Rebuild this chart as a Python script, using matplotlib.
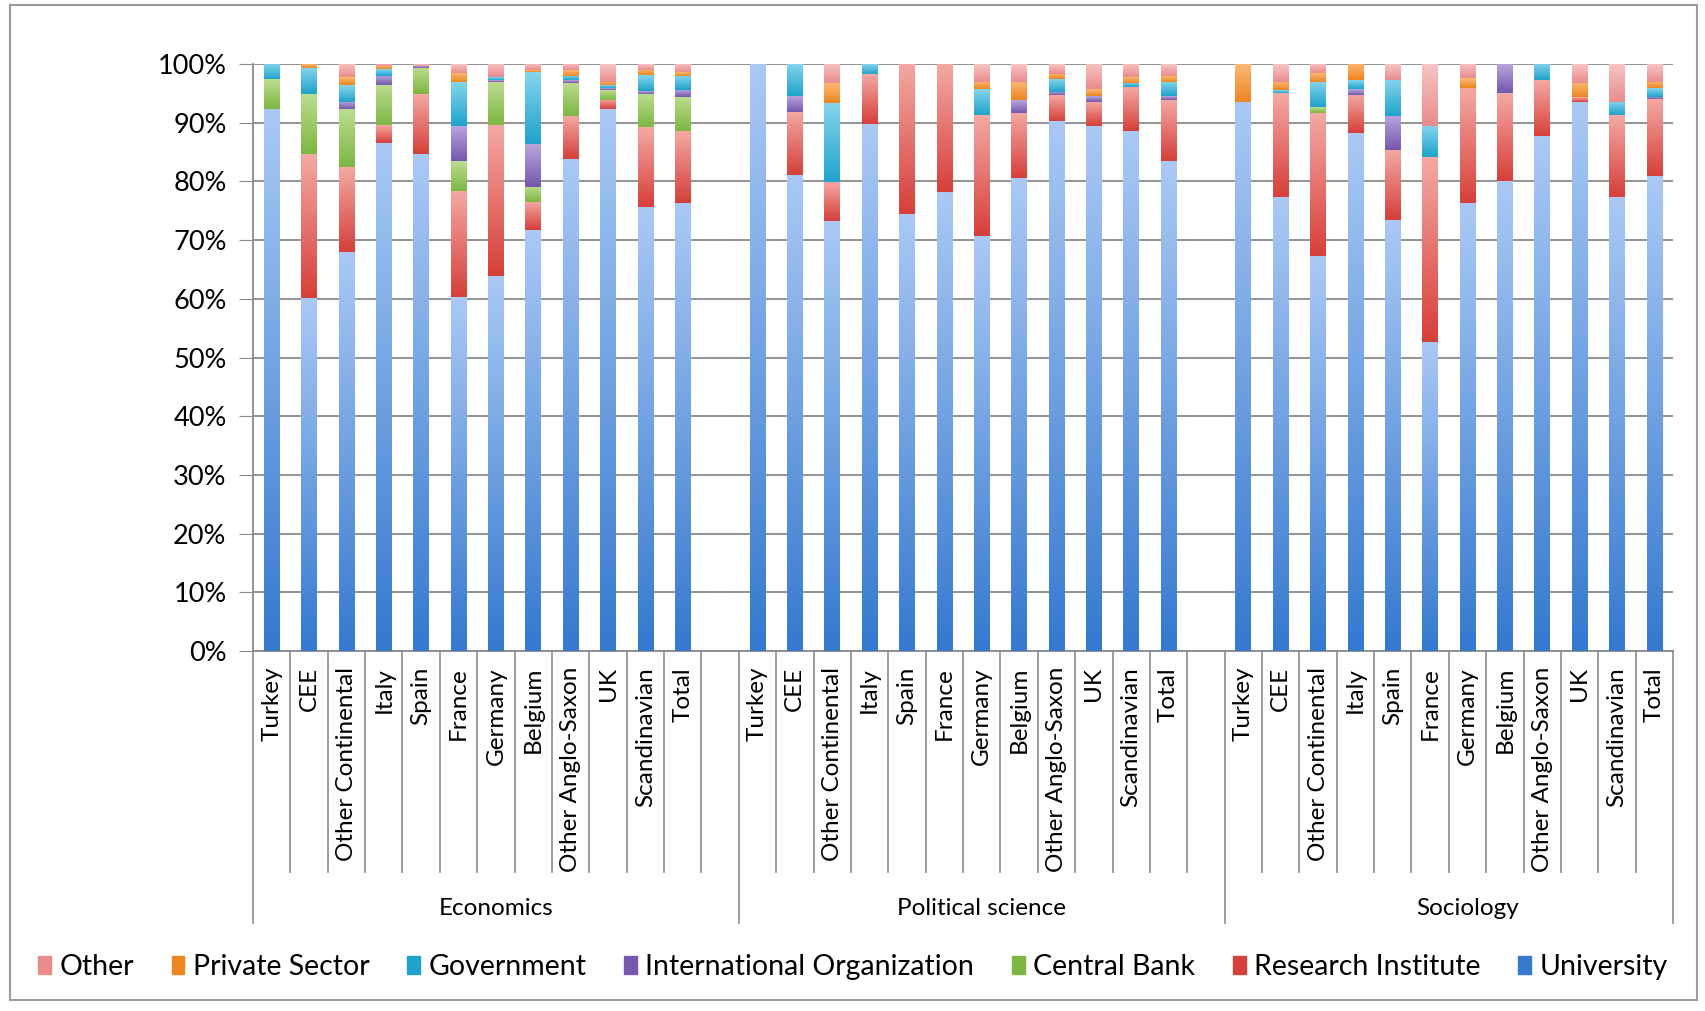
import numpy as np
import matplotlib.pyplot as plt
from matplotlib.colors import LinearSegmentedColormap
from matplotlib.patches import Rectangle

plt.rcParams['font.family'] = ['Lato', 'DejaVu Sans']

countries = ["Turkey", "CEE", "Other Continental", "Italy", "Spain", "France",
             "Germany", "Belgium", "Other Anglo-Saxon", "UK", "Scandinavian", "Total"]
fields = ["Economics", "Political science", "Sociology"]

# shares in %, 12 countries per field: Economics | Political science | Sociology
university = [92.3, 60.1, 67.9, 86.6, 84.7, 60.3, 63.9, 71.7, 83.9, 92.3, 75.7, 76.4,
              100.0, 81.1, 73.3, 89.8, 74.4, 78.2, 70.7, 80.5, 90.3, 89.4, 88.6, 83.4,
              93.6, 77.4, 67.3, 88.2, 73.5, 52.7, 76.4, 80.1, 87.7, 93.6, 77.4, 80.9]
research_institute = [0.0, 24.6, 14.6, 3.0, 10.2, 18.1, 25.7, 4.8, 7.2, 1.6, 13.5, 12.2,
                      0.0, 10.8, 6.6, 8.5, 25.6, 21.8, 20.6, 11.2, 4.4, 4.2, 7.4, 10.5,
                      0.0, 17.6, 24.4, 6.5, 11.8, 31.4, 19.5, 14.9, 9.5, 0.8, 13.9, 13.1]
central_bank = [5.1, 10.2, 9.8, 6.8, 4.5, 5.0, 7.4, 2.6, 5.7, 1.7, 5.7, 5.8,
                0, 0, 0, 0, 0, 0, 0, 0, 0, 0, 0, 0,
                0, 0, 1.0, 0, 0, 0, 0, 0, 0, 0, 0, 0]
intl_org = [0.0, 0.0, 1.3, 1.6, 0.3, 6.0, 0.3, 7.2, 0.4, 0.3, 0.5, 1.2,
            0.0, 2.6, 0.0, 0.0, 0, 0, 0.0, 2.2, 0.6, 1.0, 0.0, 0.6,
            0.0, 0.0, 0.0, 1.0, 5.8, 0.0, 0, 5.0, 0, 0, 0, 0.4]
government = [2.6, 4.5, 2.8, 1.1, 0.0, 7.6, 0.4, 12.4, 0.8, 0.5, 2.7, 2.4,
              0.0, 5.5, 13.5, 1.7, 0, 0, 4.4, 0.0, 2.1, 0.0, 0.7, 2.5,
              0.0, 0.5, 4.3, 1.5, 6.2, 5.3, 0.0, 0.0, 2.8, 0.0, 2.3, 1.5]
private_sector = [0.0, 0.6, 1.3, 0.5, 0.0, 1.5, 0.0, 0.2, 0.9, 0.6, 0.9, 0.6,
                  0.0, 0.0, 3.3, 0.0, 0, 0, 1.3, 3.1, 0.9, 1.1, 1.0, 1.0,
                  6.4, 1.5, 1.4, 2.8, 0.0, 0.0, 1.7, 0.0, 0.0, 2.4, 0.0, 1.1]
other = [0.0, 0.0, 2.3, 0.4, 0.3, 1.5, 2.3, 1.1, 1.1, 3.0, 1.0, 1.4,
         0.0, 0.0, 3.3, 0.0, 0, 0, 3.0, 3.0, 1.7, 4.3, 2.3, 2.0,
         0.0, 3.0, 1.6, 0.0, 2.7, 10.6, 2.4, 0.0, 0.0, 3.2, 6.4, 3.0]

series = [("University", university, "#3679cf", "#a9c9f4"),
          ("Research Institute", research_institute, "#d6403a", "#f4a8a3"),
          ("Central Bank", central_bank, "#7db642", "#bcdd8f"),
          ("International Organization", intl_org, "#7658ad", "#b9a6dd"),
          ("Government", government, "#1fa3cc", "#86d5ec"),
          ("Private Sector", private_sector, "#ee8622", "#fbb874"),
          ("Other", other, "#ea8c8c", "#f7c4c4")]

# slot positions: 12 bars per field, one empty slot between fields
slots = []
for g in range(3):
    slots += [g * 13 + i + 0.5 for i in range(12)]
slots = np.array(slots)
n_slots = 38

fig = plt.figure(figsize=(17.06, 10.11), dpi=100)
ax = fig.add_axes([0.1483, 0.356, 0.8324, 0.5807])

grad = np.linspace(0, 1, 64).reshape(-1, 1)
bottom = np.zeros(len(slots))
for name, vals, dark, light in series:
    vals = np.array(vals, dtype=float)
    bars = ax.bar(slots, vals, 0.42, bottom=bottom, color='none', linewidth=0)
    cmap = LinearSegmentedColormap.from_list(name, [dark, light])
    for b in bars:
        if b.get_height() <= 0:
            continue
        x0, y0 = b.get_x(), b.get_y()
        ax.imshow(grad, cmap=cmap, origin='lower', aspect='auto',
                  extent=[x0, x0 + b.get_width(), y0, y0 + b.get_height()],
                  zorder=3, interpolation='bilinear')
    bottom += vals

ax.set_xlim(0, n_slots)
ax.set_ylim(0, 100)
ax.set_yticks(range(0, 101, 10))
ax.set_yticklabels([f"{v}%" for v in range(0, 101, 10)], fontsize=19.5)
ax.tick_params(axis='y', length=10, color='#8a8a8a', pad=9)
ax.set_xticks([])
ax.grid(axis='y', color='#8a8a8a', linewidth=1.3, zorder=0)
ax.set_axisbelow(True)
for s in ['top', 'right']:
    ax.spines[s].set_visible(False)
for s in ['left', 'bottom']:
    ax.spines[s].set_color('#8a8a8a')
    ax.spines[s].set_linewidth(1.3)

# category separators and labels
tr = ax.get_xaxis_transform()
for i in range(n_slots + 1):
    long = i in (0, 13, 26, 38)
    ax.plot([i, i], [0, -0.463 if long else -0.376], transform=tr, color='#8a8a8a',
            linewidth=1.2, clip_on=False)
for x, c in zip(slots, countries * 3):
    ax.text(x, -0.027, c, transform=tr, rotation=90, ha='center', va='top', fontsize=17.5)
for g, f in enumerate(fields):
    ax.text(g * 13 + 6.5, -0.438, f, transform=tr, ha='center', va='center', fontsize=17.5)

# legend
handles = [Rectangle((0, 0), 1, 1, color=s[2]) for s in series[::-1]]
labels = [s[0] for s in series[::-1]]
fig.legend(handles, labels, loc='center', bbox_to_anchor=(0.5, 0.0435), ncol=7,
           frameon=False, fontsize=20.5, handlelength=0.45, handleheight=0.55,
           handletextpad=0.3, columnspacing=1.32)

fig.patches.append(Rectangle((0.0059, 0.0109), 0.989, 0.984, transform=fig.transFigure,
                             fill=False, edgecolor='#9a9a9a', linewidth=1.5))

fig.savefig("out.png", dpi=100)
